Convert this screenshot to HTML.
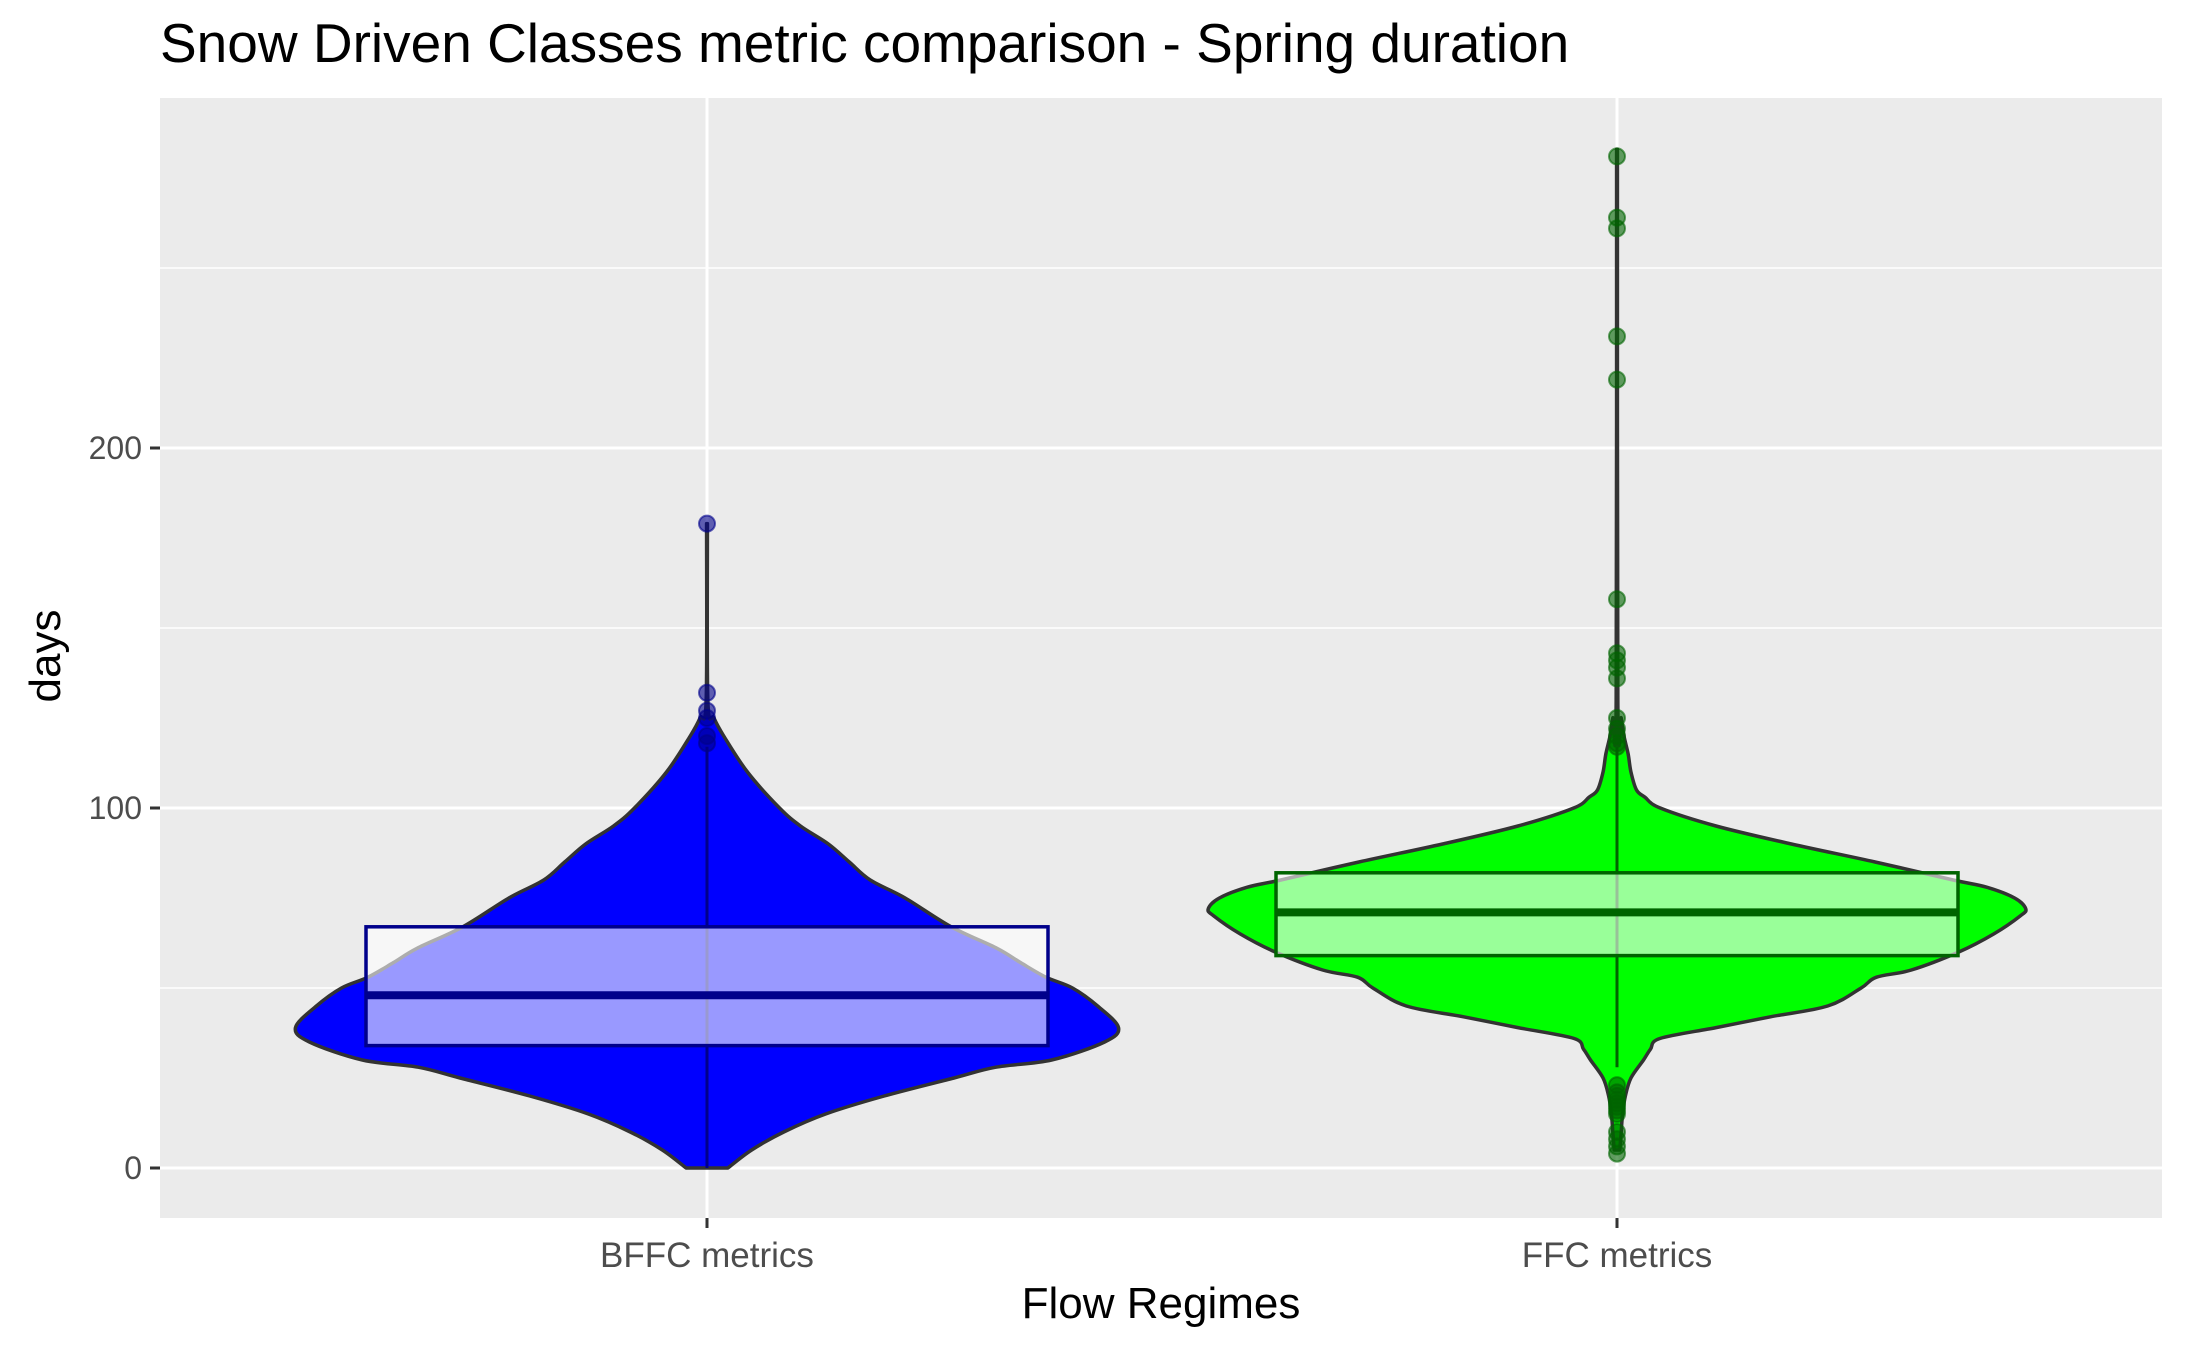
<!DOCTYPE html>
<html><head><meta charset="utf-8">
<style>
html,body{margin:0;padding:0;background:#fff;}
svg{display:block;font-family:"Liberation Sans",sans-serif;}
</style></head>
<body>
<svg id="chart" width="2187" height="1351" viewBox="0 0 2187 1351">
<text x="160" y="62" font-size="55" fill="#000">Snow Driven Classes metric comparison - Spring duration</text>
<rect x="160" y="98" width="2002" height="1120" fill="#ebebeb"/>
<g id="grid"></g>
<g id="marks"></g>
<g id="axes"></g>
<text x="1161" y="1318" font-size="44" text-anchor="middle" fill="#000">Flow Regimes</text>
<text transform="translate(60,656) rotate(-90)" font-size="44" text-anchor="middle" fill="#000">days</text>
</svg>
<script>
const categories = ["BFFC metrics","FFC metrics"];
const yTicks = [0,100,200];
const yMinor = [50,150,250];
// violin density profiles: value levels and relative half-widths
const bffcLevels = [0,5,10,15,20,25,28,30,35,39,45,50,53,57,61,67,75,80,85,90,95,100,110,120,125,130,179];
const bffcWidths = [15,32,55,85,127,177,207,247,285,295,280,262,243,225,208,175,142,117,102,87,67,52,29,12,5,0.6,0.3];
const ffcLevels = [5,10,15,20,25,30,33,36,39,42,45,50,53,55,60,65,70,72,75,78,80,85,90,95,100,103,105,110,115,120,125,130,283];
const ffcWidths = [2,3,4,6,10,19,24,31,71,110,151,175,186,211,245,270,289,293,285,265,241,185,125,71,31,20,14,10,8,5,3,0.6,0.3];
// box stats: [lower whisker, q1, median, q3, upper whisker]
const bffcBox = [0,34,48,67,117];
const ffcBox = [28,59,71,82,117];
const bffcPoints = [179,132,127,125,120,118];
const ffcPoints = [281,264,261,231,219,158,143,141,139,136,125,122,120,118,117,23,21,20,19,18,17,16,15,10,8,6,4];

const NS="http://www.w3.org/2000/svg";
const yScale = v => 1168 - v*3.6;
const xScale = i => [707,1617][i];
const wScale = w => w*1.395;
const boxHalf = 341;

function mk(tag, attrs, parent){
  const e=document.createElementNS(NS,tag);
  for(const k in attrs) e.setAttribute(k,attrs[k]);
  parent.appendChild(e); return e;
}
const grid=document.getElementById('grid');
const marks=document.getElementById('marks');
const axes=document.getElementById('axes');

yMinor.forEach(v=>{
  const l=mk('line',{x1:160,x2:2162,y1:yScale(v),y2:yScale(v),stroke:'#fff','stroke-width':1.5},grid);
  
  
});
yTicks.forEach(v=>{
  const l=mk('line',{x1:160,x2:2162,y1:yScale(v),y2:yScale(v),stroke:'#fff','stroke-width':3},grid);
  
  
  const t=mk('line',{x1:150,x2:160,y1:yScale(v),y2:yScale(v),stroke:'#333','stroke-width':3},axes);
  
  
  const tx=mk('text',{x:142,y:yScale(v)+11,'font-size':32,'text-anchor':'end',fill:'#4d4d4d'},axes);
  tx.textContent=v;
  
  
});
categories.forEach((c,i)=>{
  const l=mk('line',{x1:xScale(i),x2:xScale(i),y1:98,y2:1218,stroke:'#fff','stroke-width':3},grid);
  
  
  const t=mk('line',{x1:xScale(i),x2:xScale(i),y1:1218,y2:1228,stroke:'#333','stroke-width':3},axes);
  
  
  const tx=mk('text',{x:xScale(i),y:1267,'font-size':35,'text-anchor':'middle',fill:'#4d4d4d'},axes);
  tx.textContent=c;
  
  
});

function curve(pts){
  let d='';
  for(let i=0;i<pts.length-1;i++){
    const p0=pts[Math.max(0,i-1)],p1=pts[i],p2=pts[i+1],p3=pts[Math.min(pts.length-1,i+2)];
    const c1=[p1[0]+(p2[0]-p0[0])/6,p1[1]+(p2[1]-p0[1])/6];
    const c2=[p2[0]-(p3[0]-p1[0])/6,p2[1]-(p3[1]-p1[1])/6];
    d+=` C${c1[0]},${c1[1]} ${c2[0]},${c2[1]} ${p2[0]},${p2[1]}`;
  }
  return d;
}
function violin(i,levels,widths,fill,name){
  const cx=xScale(i);
  const right=levels.map((v,k)=>[cx+wScale(widths[k]),yScale(v)]);
  const left=levels.map((v,k)=>[cx-wScale(widths[k]),yScale(v)]).reverse();
  const d='M'+right[0][0]+','+right[0][1]+curve(right)+' L'+left[0][0]+','+left[0][1]+curve(left)+' Z';
  const p=mk('path',{d:d,fill:fill,stroke:'#333','stroke-width':3.5,'stroke-linejoin':'round'},marks);
  
  
}
function box(i,st,line,name){
  const cx=xScale(i);
  const w=mk('line',{x1:cx,x2:cx,y1:yScale(st[0]),y2:yScale(st[4]),stroke:line,'stroke-width':3},marks);
  
  
  const r=mk('rect',{x:cx-boxHalf,y:yScale(st[3]),width:boxHalf*2,height:yScale(st[1])-yScale(st[3]),fill:'#fff','fill-opacity':0.6,stroke:line,'stroke-width':3.5},marks);
  
  
  const m=mk('line',{x1:cx-boxHalf,x2:cx+boxHalf,y1:yScale(st[2]),y2:yScale(st[2]),stroke:line,'stroke-width':8},marks);
  
  
}
function points(i,vals,col,name){
  vals.forEach((v,k)=>{
    const c=mk('circle',{cx:xScale(i),cy:yScale(v),r:8,fill:col,'fill-opacity':0.6,stroke:col,'stroke-opacity':0.6,'stroke-width':2},marks);
    
    
  });
}
violin(0,bffcLevels,bffcWidths,'#0000ff','bffc-violin');
violin(1,ffcLevels,ffcWidths,'#00ff00','ffc-violin');
box(0,bffcBox,'#00008b','bffc');
box(1,ffcBox,'#006400','ffc');
points(0,bffcPoints,'#00008b','bffc-outlier');
points(1,ffcPoints,'#006400','ffc-outlier');
</script>
</body></html>
